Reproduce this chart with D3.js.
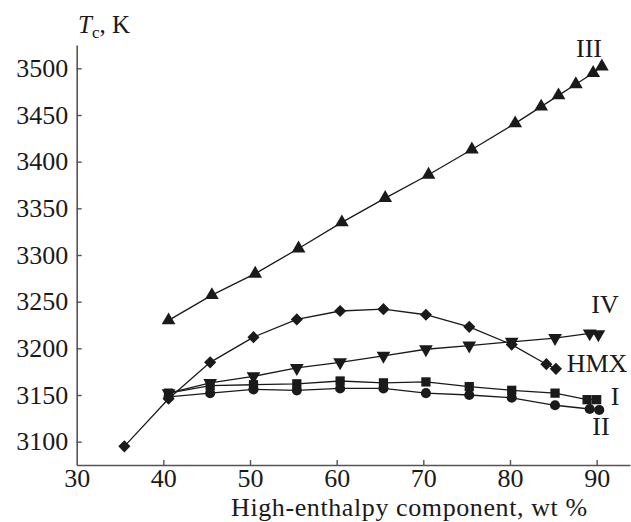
<!DOCTYPE html>
<html>
<head>
<meta charset="utf-8">
<script src="https://cdn.jsdelivr.net/npm/d3@7"></script>
<style>
  body { margin: 0; background: #fff; }
  svg text { font-family: "Liberation Serif", "Times New Roman", serif; fill: #1a1a1a; }
</style>
</head>
<body>
<div id="chart"></div>
<script>
// wt % of high-enthalpy component vs combustion temperature Tc, K
const xIII = [40.6, 45.6, 50.6, 55.6, 60.6, 65.6, 70.6, 75.6, 80.6, 83.6, 85.6, 87.6, 89.6, 90.6];
const tIII = [3230, 3257, 3280, 3307, 3335, 3361, 3386, 3413, 3441, 3459, 3471, 3483, 3495, 3502];

const xHMX = [35.5, 40.6, 45.4, 50.4, 55.4, 60.4, 65.4, 70.3, 75.3, 80.2, 84.2, 85.3];
const tHMX = [3095, 3146, 3185, 3212, 3231, 3240, 3242, 3236, 3223, 3204, 3183, 3178];

const xIV = [40.6, 45.4, 50.4, 55.4, 60.4, 65.4, 70.3, 75.3, 80.2, 85.2, 89.2, 90.2];
const tIV = [3152, 3163, 3170, 3179, 3185, 3192, 3199, 3203, 3207, 3211, 3216, 3215];

const xI = [40.6, 45.4, 50.4, 55.4, 60.4, 65.4, 70.3, 75.3, 80.2, 85.2, 88.9, 90.0];
const tI = [3152, 3160, 3161, 3162, 3165, 3163, 3164, 3159, 3155, 3152, 3145, 3145];

const xII = [40.6, 45.4, 50.4, 55.4, 60.4, 65.4, 70.3, 75.3, 80.2, 85.2, 89.2, 90.3];
const tII = [3148, 3152, 3156, 3155, 3157, 3157, 3152, 3150, 3147, 3139, 3135, 3134];

const xTicks = [30, 40, 50, 60, 70, 80, 90];
const yTicks = [3100, 3150, 3200, 3250, 3300, 3350, 3400, 3450, 3500];

const width = 631, height = 522;
const ink = '#1a1a1a';
const serif = '"Liberation Serif", "Times New Roman", serif';

const svg = d3.select('#chart').append('svg')
    .attr('width', width)
    .attr('height', height);

const x = d3.scaleLinear().domain([30, 93.85]).range([76.7, 630]);
const y = d3.scaleLinear().domain([3075, 3525]).range([465, 45]);

// axes
const xAxis = svg.append('g')
    .attr('transform', 'translate(0,' + y(3075) + ')')
    .call(d3.axisBottom(x).tickValues(xTicks).tickFormat(d3.format('d')).tickSize(-5).tickSizeOuter(0));
const yAxis = svg.append('g')
    .attr('transform', 'translate(' + x(30) + ',0)')
    .call(d3.axisLeft(y).tickValues(yTicks).tickFormat(d3.format('d')).tickSize(-5).tickPadding(8.5).tickSizeOuter(0));
[xAxis, yAxis].forEach(g => {
    g.attr('font-family', serif).attr('font-size', 26);
    g.select('.domain').attr('stroke', '#555').attr('stroke-width', 1.6);
    g.selectAll('.tick line').attr('stroke', '#555').attr('stroke-width', 1.4);
    g.selectAll('.tick text').attr('fill', ink);
});
xAxis.selectAll('.tick').filter(d => d === 30).select('line').remove();

xAxis.selectAll('.tick text').attr('y', 21.5).attr('dy', 0);
yAxis.selectAll('.tick text').attr('dy', '0.32em');

// axis titles
svg.append('text')
    .attr('x', 231)
    .attr('y', 516)
    .attr('font-size', 26)
    .attr('letter-spacing', 0.6)
    .text('High-enthalpy component, wt %');

const yt = svg.append('text')
    .attr('x', 78)
    .attr('y', 33)
    .attr('font-size', 25);
yt.append('tspan').style('font-style', 'italic').text('T');
yt.append('tspan').attr('dy', 5).attr('font-size', 17).text('c');
yt.append('tspan').attr('dy', -5).text(', K');

// series
const series = [
    { name: 'III', xs: xIII, ts: tIII, sym: d3.symbolTriangle, size: 82, rot: 0 },
    { name: 'HMX', xs: xHMX, ts: tHMX, sym: d3.symbolSquare, size: 74, rot: 45 },
    { name: 'IV', xs: xIV, ts: tIV, sym: d3.symbolTriangle, size: 82, rot: 180 },
    { name: 'I', xs: xI, ts: tI, sym: d3.symbolSquare, size: 86, rot: 0 },
    { name: 'II', xs: xII, ts: tII, sym: d3.symbolCircle, size: 80, rot: 0 }
];

const line = d3.line()
    .x(d => x(d[0]))
    .y(d => y(d[1]));

series.forEach(s => {
    const pts = s.xs.map((v, i) => [v, s.ts[i]]);
    svg.append('path')
        .datum(pts)
        .attr('fill', 'none')
        .attr('stroke', ink)
        .attr('stroke-width', 1.3)
        .attr('d', line);
    svg.append('g').selectAll('path')
        .data(pts)
        .join('path')
        .attr('transform', d => 'translate(' + x(d[0]) + ',' + y(d[1]) + ') rotate(' + s.rot + ')')
        .attr('d', d3.symbol(s.sym, s.size))
        .attr('fill', ink);
});

// series labels
const labels = [
    { text: 'III', x: 589, y: 57 },
    { text: 'IV', x: 605, y: 313 },
    { text: 'HMX', x: 597, y: 372 },
    { text: 'I', x: 615, y: 405 },
    { text: 'II', x: 601, y: 435 }
];
svg.append('g').selectAll('text')
    .data(labels)
    .join('text')
    .attr('x', d => d.x)
    .attr('y', d => d.y)
    .attr('text-anchor', 'middle')
    .attr('font-size', 26)
    .text(d => d.text);
</script>
</body>
</html>
